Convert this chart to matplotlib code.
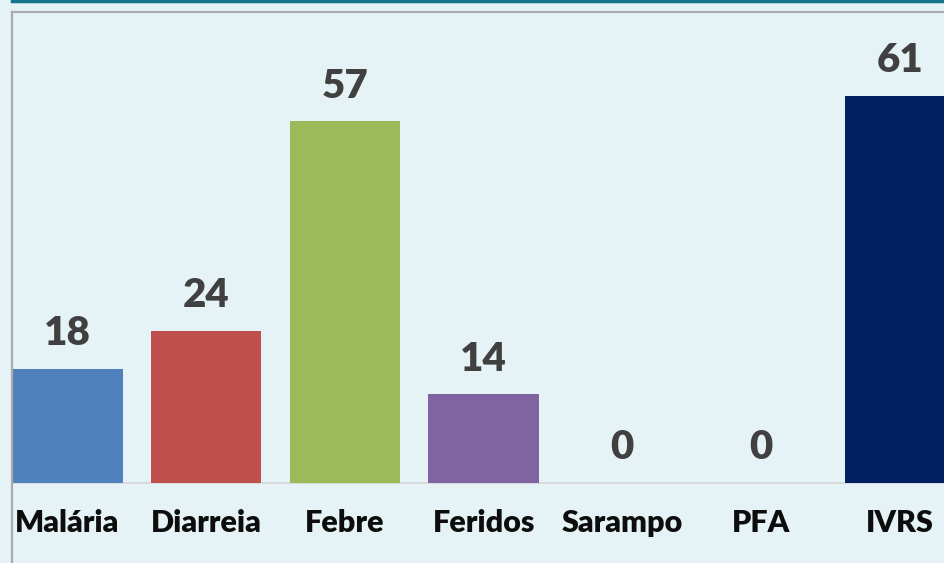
import matplotlib.pyplot as plt
from matplotlib.lines import Line2D

categories = ["Malária", "Diarreia", "Febre", "Feridos", "Sarampo", "PFA", "IVRS"]
values = [18, 24, 57, 14, 0, 0, 61]
colors = ["#4F81BD", "#C0504D", "#9BBB59", "#8064A2", "#F79646", "#4BACC6", "#002060"]

BG = "#E5F2F6"
W, H = 945, 563

plt.rcParams['font.family'] = ['Lato', 'DejaVu Sans']

fig = plt.figure(figsize=(W / 100, H / 100), dpi=100, facecolor=BG)

# plot area: left edge at x=12px, top border at y=12px, runs off the bottom
ax = fig.add_axes([12 / W, 0, 1 - 12 / W, 1 - 12 / H])
ax.set_facecolor(BG)

px_per_unit = 387 / 61
base_px = 483
ax.set_ylim(-(H - base_px) / px_per_unit, (base_px - 12) / px_per_unit)
ax.set_xlim(-0.4, -0.4 + (W - 12) / 138.7)

x = range(len(categories))
ax.bar(x, values, width=0.795, color=colors, zorder=2)
ax.axhline(0, color="#D6D6D6", lw=1.2, zorder=1)

for xi, v in zip(x, values):
    ax.annotate(str(v), (xi, v), xytext=(0, 17), textcoords="offset points",
                ha="center", va="baseline", fontsize=29, fontweight="heavy",
                color="#404040")

for xi, name in zip(x, categories):
    ax.text(xi, -7.7, name, ha="center", va="baseline", fontsize=22,
            fontweight="heavy", color="#0D0D0D")

for side in ["right", "bottom"]:
    ax.spines[side].set_visible(False)
for side in ["left", "top"]:
    ax.spines[side].set_color("#ABABAB")
    ax.spines[side].set_linewidth(1.6)
ax.set_xticks([])
ax.set_yticks([])

# teal strip along the top edge
fig.add_artist(Line2D([12 / W, 1], [1 - 1 / H, 1 - 1 / H], color="#17738A",
                      lw=2.5, transform=fig.transFigure))

fig.savefig("out.png", dpi=100, facecolor=BG)
